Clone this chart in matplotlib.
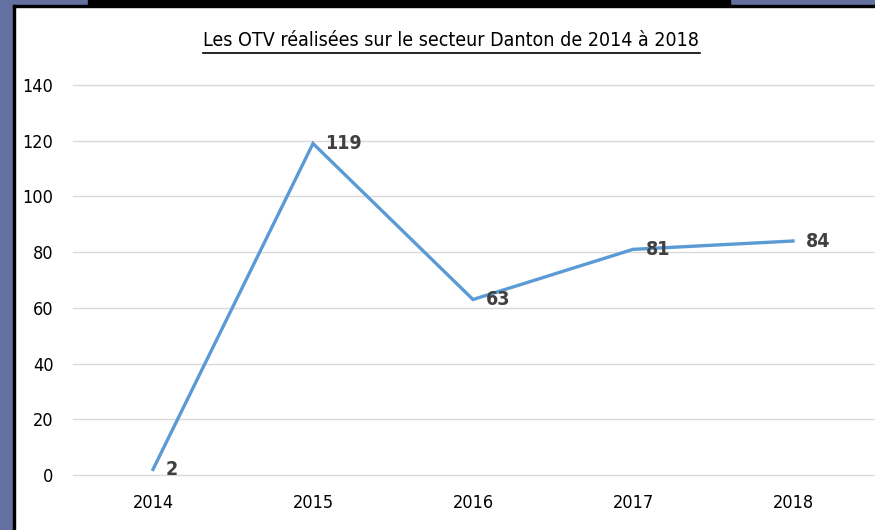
import matplotlib.pyplot as plt
from matplotlib.patches import Rectangle

years = ["2014", "2015", "2016", "2017", "2018"]
otv = [2, 119, 63, 81, 84]
yticks = [0, 20, 40, 60, 80, 100, 120, 140]

W, H = 875, 530
plt.rcParams['font.family'] = ['DejaVu Sans']
plt.rcParams['font.stretch'] = 'condensed'
fig = plt.figure(figsize=(W / 100, H / 100), dpi=100)

# screenshot frame: blue-grey border, black lines
fig.patches.append(Rectangle((0, 0), 13 / W, 1, transform=fig.transFigure,
                             color="#6470a0", zorder=0))
fig.patches.append(Rectangle((0, 1 - 6 / H), 1, 6 / H, transform=fig.transFigure,
                             color="#6470a0", zorder=0))
fig.patches.append(Rectangle((13 / W, 0), 2 / W, 1 - 5 / H, transform=fig.transFigure,
                             color="black", zorder=1))
fig.patches.append(Rectangle((13 / W, 1 - 7 / H), 1, 2 / H, transform=fig.transFigure,
                             color="black", zorder=1))
fig.patches.append(Rectangle((88 / W, 1 - 5 / H), 642 / W, 5 / H, transform=fig.transFigure,
                             color="black", zorder=1))

ax = fig.add_axes([73 / W, (H - 475) / H, 800 / W, 390 / H])
x = list(range(len(years)))
ax.plot(x, otv, color="#5b9bd5", linewidth=2.4, solid_joinstyle="miter", zorder=3)

for xi, v in zip(x, otv):
    ax.annotate(str(v), (xi, v), xytext=(9, 0), textcoords="offset points",
                ha="left", va="center", fontsize=14, fontweight="bold",
                color="#404040", zorder=4)

ax.set_xlim(-0.5, len(years) - 0.5)
ax.set_ylim(0, 140)
ax.set_yticks(yticks)
ax.set_xticks(x)
ax.set_xticklabels(years)
ax.grid(axis="y", color="#d9d9d9", linewidth=1)
for gl in ax.get_ygridlines():
    gl.set_clip_on(False)
ax.set_axisbelow(True)
for s in ax.spines.values():
    s.set_visible(False)
ax.tick_params(length=0, labelsize=13, colors="#000000")
ax.tick_params(axis="y", pad=14)
ax.tick_params(axis="x", pad=14)

fig.text(451 / W, 1 - 41 / H, "Les OTV réalisées sur le secteur Danton de 2014 à 2018",
         ha="center", va="center", fontsize=14, color="#000000")
fig.add_artist(plt.Line2D([203 / W, 700 / W], [1 - 53 / H, 1 - 53 / H],
                          transform=fig.transFigure, color="black", linewidth=1.2))

fig.savefig("out.png", dpi=100)
